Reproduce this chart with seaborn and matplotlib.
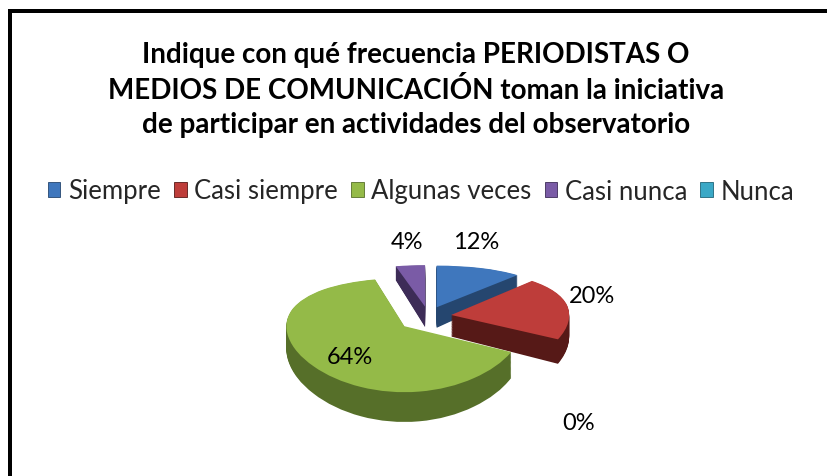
import matplotlib
matplotlib.use("Agg")
import matplotlib.pyplot as plt
from matplotlib.lines import Line2D
from matplotlib.patches import Patch
import numpy as np
import seaborn as sns

sns.set_style("white")
plt.rcParams['font.family'] = ['Lato', 'DejaVu Sans']

# Data
CATEGORIES = ['Siempre', 'Casi siempre', 'Algunas veces', 'Casi nunca', 'Nunca']
PERCENTS = [12, 20, 64, 4, 0]
PCT_LABELS = ['12%', '20%', '64%', '4%', '0%']

# Colors (top face / side face)
TOP_COLORS = sns.color_palette(['#3F77BD', '#BE3D3A', '#94BA48', '#7A5BA6', '#3AA8C6'])
SIDE_COLORS = sns.color_palette(['#25466F', '#561917', '#566F29', '#3D2C57', '#1F6578'])
EXPLODE = [0.2, 0.2, 0.26, 0.2, 0.0]

# Pie geometry in pixels
W, H = 828, 477
CX, CY = 428, 318      # pie centre
SX = 118               # pixels per unit, horizontal
DEPTH = 0.38           # pie thickness in data units
N_LAYERS = 30

# label positions in pixels (where the chart tool placed them)
LABEL_POS = [(476, 243), (592, 297), (350, 358), (407, 243), (579, 424)]


# fake perspective: near half of the pie is taller than the far half
def persp(y):
    y = np.asarray(y, dtype=float)
    mid = 54 * y - 9 * y * y
    hi = 60.75 + 27 * (y - 1.5)
    lo = -101.25 + 81 * (y + 1.5)
    return np.where(y > 1.5, hi, np.where(y < -1.5, lo, mid))


def persp_inv(v):
    v = np.asarray(v, dtype=float)
    vc = np.clip(v, -101.25, 60.75)
    mid = (54 - np.sqrt(np.maximum(54 * 54 - 36 * vc, 0))) / 18
    hi = 1.5 + (v - 60.75) / 27
    lo = -1.5 + (v + 101.25) / 81
    return np.where(v > 60.75, hi, np.where(v < -101.25, lo, mid))


def drawPie(ax):
    for k in range(N_LAYERS):
        off = -DEPTH * (1 - k / N_LAYERS)
        ax.pie(PERCENTS, explode=EXPLODE, colors=SIDE_COLORS, startangle=90,
               counterclock=False, center=(0, off), radius=1,
               wedgeprops=dict(linewidth=0))
    ax.pie(PERCENTS, explode=EXPLODE, colors=TOP_COLORS, startangle=90,
           counterclock=False, center=(0, 0), radius=1,
           wedgeprops=dict(linewidth=0))
    ax.set_aspect('auto')
    ax.set_yscale('function', functions=(persp, persp_inv))
    ax.set_xlim(-CX / SX, (W - CX) / SX)
    ax.set_ylim(float(persp_inv(-(H - CY))), float(persp_inv(CY)))
    ax.axis('off')


if __name__ == "__main__":
    fig = plt.figure(figsize=(W / 100, H / 100), dpi=100)
    fig.patch.set_facecolor('white')
    ax = fig.add_axes([0, 0, 1, 1])
    drawPie(ax)

    # percent labels
    for lab, (px, py) in zip(PCT_LABELS, LABEL_POS):
        fig.text(px / W, 1 - py / H, lab, fontsize=17, ha='center', va='center',
                 color='black')

    # title
    fig.text(416 / W, 1 - 90 / H,
             "Indique con qué frecuencia PERIODISTAS O\n"
             "MEDIOS DE COMUNICACIÓN toman la iniciativa\n"
             "de participar en actividades del observatorio",
             fontsize=20, fontweight='bold', ha='center', va='center',
             linespacing=1.4, color='black')

    # legend
    handles = [Patch(facecolor=c, edgecolor=s, linewidth=0.6)
               for c, s in zip(TOP_COLORS, SIDE_COLORS)]
    fig.legend(handles, CATEGORIES, loc='center', bbox_to_anchor=(421 / W, 1 - 192 / H),
               ncol=5, frameon=False, fontsize=18.5, handlelength=0.5, handleheight=0.5,
               handletextpad=0.3, columnspacing=0.5, borderpad=0)

    # chart border (top and left only visible)
    lw = 4 * 72 / 100
    fig.add_artist(Line2D([9.5 / W, 1], [1 - 11.5 / H, 1 - 11.5 / H], color='black',
                          linewidth=lw, transform=fig.transFigure, solid_capstyle='projecting'))
    fig.add_artist(Line2D([9.5 / W, 9.5 / W], [1 - 11.5 / H, 0], color='black',
                          linewidth=lw, transform=fig.transFigure, solid_capstyle='projecting'))

    plt.savefig('out.png', dpi=100)
